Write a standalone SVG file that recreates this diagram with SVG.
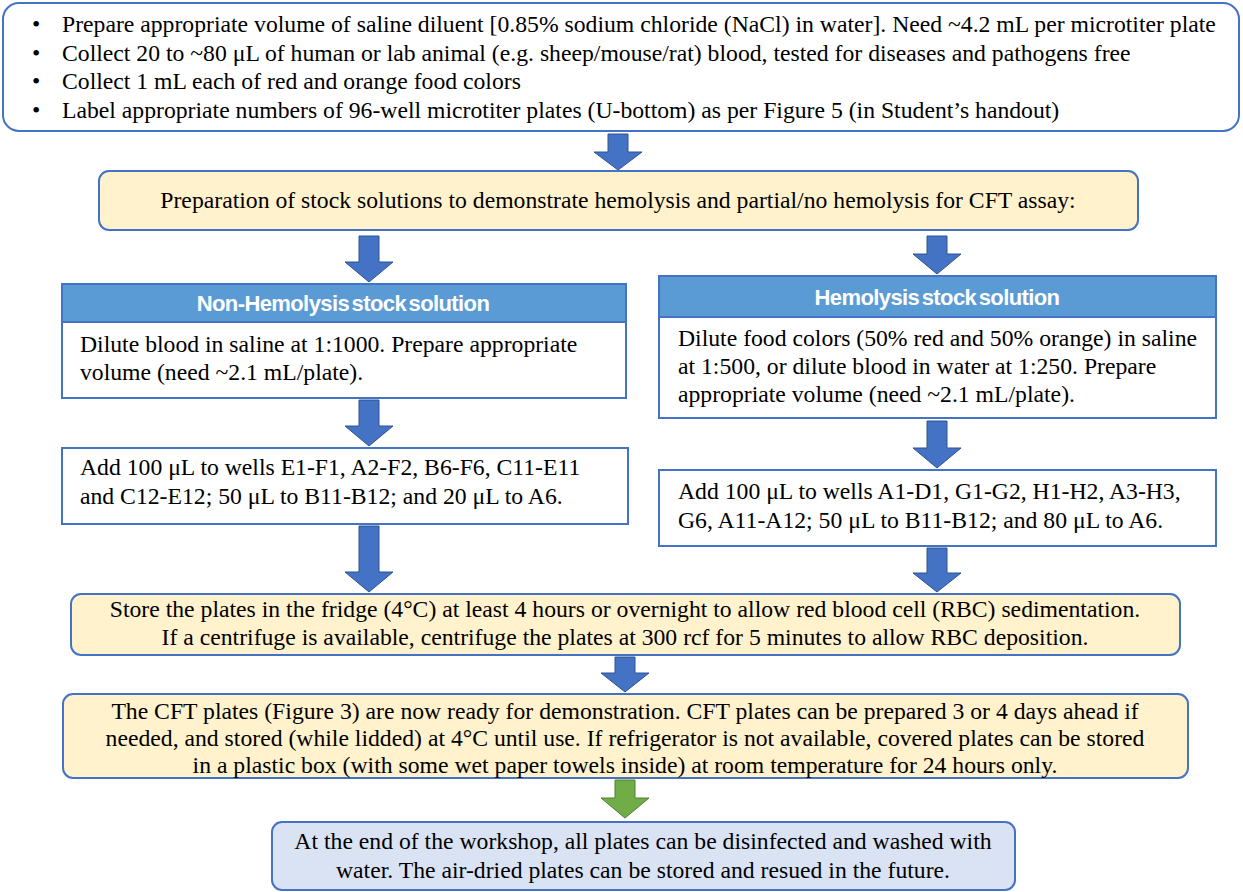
<svg xmlns="http://www.w3.org/2000/svg" width="1243" height="892" viewBox="0 0 1243 892">
<defs>
<style>
.t{font-family:"Liberation Serif","Times New Roman",serif;font-size:23.7px;fill:#000}
.c{text-anchor:middle}
.h{font-family:"Liberation Sans",Arial,sans-serif;font-size:22px;font-weight:bold;fill:#fff;text-anchor:middle;word-spacing:-3px;letter-spacing:-0.6px}
.box{fill:#fff;stroke:#4472C4;stroke-width:2}
.yel{fill:#FFF2CC;stroke:#4472C4;stroke-width:2}
.hdr{fill:#5B9BD5;stroke:#4472C4;stroke-width:2}
.blu{fill:#DAE3F3;stroke:#4472C4;stroke-width:2}
.arr{fill:#4472C4;stroke:#2F528F;stroke-width:1}
.garr{fill:#70AD47;stroke:#507E32;stroke-width:1}
</style>
</defs>
<g id="connectors">
<path class="arr" d="M608,134 H628 V152 H642 L618,170 L594,152 H608 Z"/>
<path class="arr" d="M359,236 H379 V262 H393 L369,282 L345,262 H359 Z"/>
<path class="arr" d="M927,236 H947 V254 H961 L937,274 L913,254 H927 Z"/>
<path class="arr" d="M359,400 H379 V426 H393 L369,446 L345,426 H359 Z"/>
<path class="arr" d="M927,421 H947 V448 H961 L937,468 L913,448 H927 Z"/>
<path class="arr" d="M359,526 H379 V572 H393 L369,592 L345,572 H359 Z"/>
<path class="arr" d="M927,548 H947 V573 H961 L937,592 L913,573 H927 Z"/>
<path class="arr" d="M615,657 H635 V673 H649 L625,692 L601,673 H615 Z"/>
<path class="garr" d="M615,780 H635 V798 H649 L625,818 L601,798 H615 Z"/>
</g>
<g id="n1">
<rect class="box" x="3" y="3" width="1236" height="128" rx="16"/>
<g class="t">
<text x="32" y="32">•</text><text x="62" y="32">Prepare appropriate volume of saline diluent [0.85% sodium chloride (NaCl) in water]. Need ~4.2 mL per microtiter plate</text>
<text x="32" y="61">•</text><text x="62" y="61">Collect 20 to ~80 μL of human or lab animal (e.g. sheep/mouse/rat) blood, tested for diseases and pathogens free</text>
<text x="32" y="89">•</text><text x="62" y="89">Collect 1 mL each of red and orange food colors</text>
<text x="32" y="118">•</text><text x="62" y="118">Label appropriate numbers of 96-well microtiter plates (U-bottom) as per Figure 5 (in Student’s handout)</text>
</g>
</g>
<g id="n2">
<rect class="yel" x="99" y="171" width="1039" height="59" rx="10"/>
<text class="t c" x="618" y="208">Preparation of stock solutions to demonstrate hemolysis and partial/no hemolysis for CFT assay:</text>
</g>
<g id="n3">
<rect class="hdr" x="62" y="284" width="564" height="38"/>
<text class="h" x="343" y="311">Non-Hemolysis stock solution</text>
<rect class="box" x="62" y="322" width="564" height="76"/>
<text class="t" x="80" y="352">Dilute blood in saline at 1:1000. Prepare appropriate</text>
<text class="t" x="80" y="380">volume (need ~2.1 mL/plate).</text>
</g>
<g id="n4">
<rect class="hdr" x="659" y="276" width="557" height="41"/>
<text class="h" x="937" y="305">Hemolysis stock solution</text>
<rect class="box" x="659" y="317" width="557" height="101"/>
<text class="t" x="678" y="346">Dilute food colors (50% red and 50% orange) in saline</text>
<text class="t" x="678" y="374">at 1:500, or dilute blood in water at 1:250. Prepare</text>
<text class="t" x="678" y="402">appropriate volume (need ~2.1 mL/plate).</text>
</g>
<g id="n5">
<rect class="box" x="62" y="448" width="566" height="76"/>
<text class="t" x="80" y="475">Add 100 μL to wells E1-F1, A2-F2, B6-F6, C11-E11</text>
<text class="t" x="80" y="504">and C12-E12; 50 μL to B11-B12; and 20 μL to A6.</text>
</g>
<g id="n6">
<rect class="box" x="659" y="470" width="557" height="76"/>
<text class="t" x="678" y="499">Add 100 μL to wells A1-D1, G1-G2, H1-H2, A3-H3,</text>
<text class="t" x="678" y="528">G6, A11-A12; 50 μL to B11-B12; and 80 μL to A6.</text>
</g>
<g id="n7">
<rect class="yel" x="71" y="594" width="1109" height="61" rx="10"/>
<text class="t c" x="625" y="617">Store the plates in the fridge (4°C) at least 4 hours or overnight to allow red blood cell (RBC) sedimentation.</text>
<text class="t c" x="625" y="645">If a centrifuge is available, centrifuge the plates at 300 rcf for 5 minutes to allow RBC deposition.</text>
</g>
<g id="n8">
<rect class="yel" x="63" y="694" width="1125" height="84" rx="10"/>
<text class="t c" x="625" y="719">The CFT plates (Figure 3) are now ready for demonstration. CFT plates can be prepared 3 or 4 days ahead if</text>
<text class="t c" x="625" y="746">needed, and stored (while lidded) at 4°C until use. If refrigerator is not available, covered plates can be stored</text>
<text class="t c" x="625" y="773">in a plastic box (with some wet paper towels inside) at room temperature for 24 hours only.</text>
</g>
<g id="n9">
<rect class="blu" x="272" y="822" width="743" height="68" rx="10"/>
<text class="t c" x="643" y="849">At the end of the workshop, all plates can be disinfected and washed with</text>
<text class="t c" x="643" y="878">water. The air-dried plates can be stored and resued in the future.</text>
</g>
</svg>
